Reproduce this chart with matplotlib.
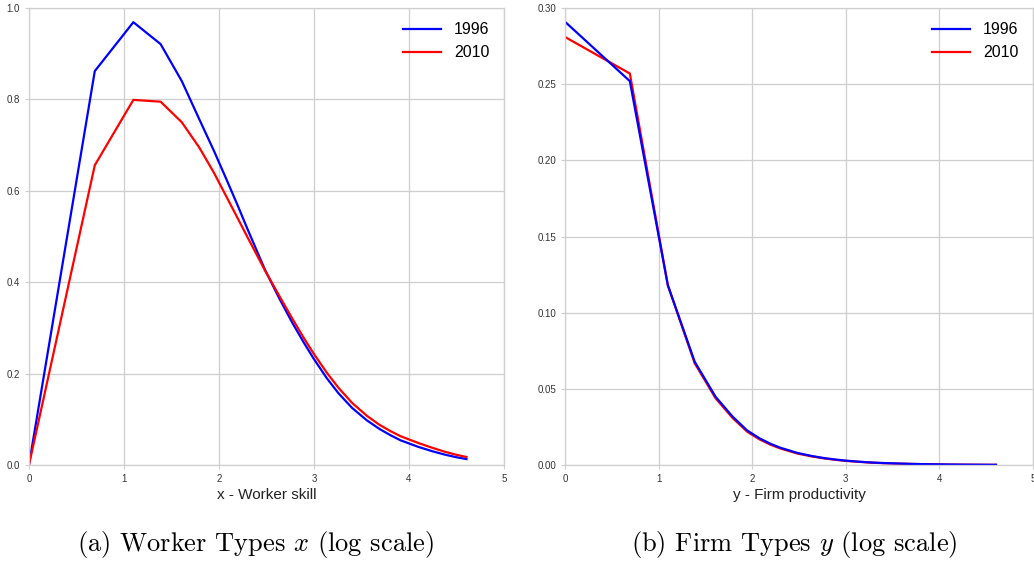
import matplotlib
matplotlib.use('Agg')
import matplotlib.pyplot as plt

plt.rcParams['font.family'] = ['Liberation Sans', 'DejaVu Sans']
plt.rcParams['mathtext.fontset'] = 'cm'

# log of the type grid (types 1..100)
logType = [0.000, 0.693, 1.099, 1.386, 1.609, 1.792, 1.946, 2.079, 2.197,
           2.303, 2.485, 2.639, 2.773, 2.890, 2.996, 3.135, 3.258, 3.401,
           3.555, 3.689, 3.807, 3.912, 4.094, 4.248, 4.382, 4.500, 4.605]

# worker type distributions
worker1996 = [0.000, 0.862, 0.969, 0.921, 0.840, 0.757, 0.688, 0.625, 0.568,
              0.515, 0.427, 0.363, 0.311, 0.269, 0.233, 0.190, 0.157, 0.125,
              0.098, 0.079, 0.065, 0.054, 0.040, 0.030, 0.0225, 0.017, 0.013]
worker2010 = [0.000, 0.656, 0.799, 0.795, 0.750, 0.695, 0.640, 0.587, 0.540,
              0.4975, 0.4256, 0.3686, 0.320, 0.279, 0.244, 0.202, 0.169, 0.136,
              0.108, 0.088, 0.074, 0.063, 0.0485, 0.0375, 0.0288, 0.0223, 0.0176]

# firm type distributions
firm1996 = [0.291, 0.252, 0.118, 0.0678, 0.0448, 0.0317, 0.0227, 0.0175, 0.0139,
            0.0113, 0.0079, 0.0059, 0.0045, 0.0036, 0.0029, 0.0022, 0.0017, 0.0013,
            0.00098, 0.00075, 0.00060, 0.00049, 0.00034, 0.00025, 0.00020, 0.00016, 0.00013]
firm2010 = [0.281, 0.257, 0.118, 0.0668, 0.0438, 0.0308, 0.0219, 0.0168, 0.0133,
            0.0108, 0.0075, 0.0056, 0.0043, 0.0034, 0.0027, 0.0021, 0.0016, 0.0012,
            0.00093, 0.00071, 0.00057, 0.00047, 0.00032, 0.00024, 0.00019, 0.00015, 0.00012]

gridCol = '#cfcfcf'

fig = plt.figure(figsize=(10.34, 5.61), dpi=100)
ax1 = fig.add_axes([0.028, 0.1711, 0.4594, 0.8146])
ax2 = fig.add_axes([0.5464, 0.1711, 0.4526, 0.8146])

def style(ax):
    ax.grid(True, color=gridCol, lw=0.9)
    ax.set_axisbelow(True)
    for s in ax.spines.values():
        s.set_color(gridCol)
        s.set_linewidth(0.9)
    ax.tick_params(labelsize=7, colors='#333333', length=3, width=0.8)
    ax.tick_params(color=gridCol)
    ax.set_xlim(0, 5)
    ax.set_xticks([0, 1, 2, 3, 4, 5])

ax1.plot(logType, worker1996, color='blue', lw=1.6, label='1996')
ax1.plot(logType, worker2010, color='red', lw=1.6, label='2010')
style(ax1)
ax1.set_ylim(0, 1.0)
ax1.set_yticks([0.0, 0.2, 0.4, 0.6, 0.8, 1.0])
ax1.set_yticklabels(['0.0', '0.2', '0.4', '0.6', '0.8', '1.0'])
ax1.set_xlabel('x - Worker skill', fontsize=11, color='#222222', labelpad=3)
ax1.legend(loc='upper right', frameon=False, fontsize=11.5, handlelength=2.4)

ax2.plot(logType, firm2010, color='red', lw=1.6, label='2010')
ax2.plot(logType, firm1996, color='blue', lw=1.6, label='1996')
style(ax2)
ax2.set_ylim(0, 0.30)
ax2.set_yticks([0.00, 0.05, 0.10, 0.15, 0.20, 0.25, 0.30])
ax2.set_yticklabels(['0.00', '0.05', '0.10', '0.15', '0.20', '0.25', '0.30'])
ax2.set_xlabel('y - Firm productivity', fontsize=11, color='#222222', labelpad=3)
h, l = ax2.get_legend_handles_labels()
ax2.legend(h[::-1], l[::-1], loc='upper right', frameon=False, fontsize=11.5,
           handlelength=2.4)

fig.text(0.247, 0.001, r'(a) Worker Types $x$ (log scale)', fontname='cmr10',
         fontsize=19, ha='center', va='bottom')
fig.text(0.768, 0.001, r'(b) Firm Types $y$ (log scale)', fontname='cmr10',
         fontsize=19, ha='center', va='bottom')

fig.savefig('out.png', dpi=100)
